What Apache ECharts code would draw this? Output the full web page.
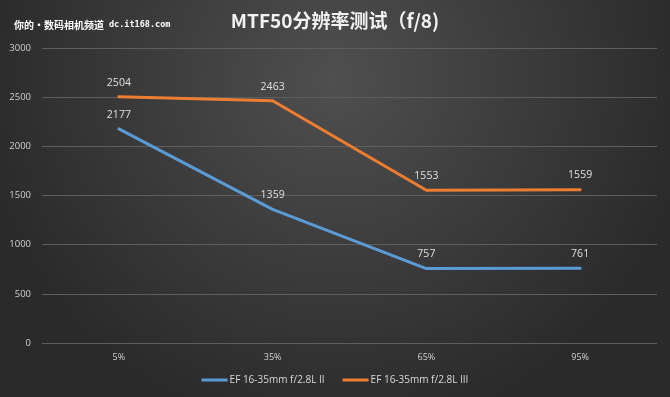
<!DOCTYPE html>
<html><head><meta charset="utf-8">
<script src="https://cdn.jsdelivr.net/npm/echarts@6/dist/echarts.min.js"></script>
<style>html,body{margin:0;padding:0;background:#333;}#c{width:670px;height:397px;}</style>
</head><body><div id="c"></div>
<script>
const categories = ['5%', '35%', '65%', '95%'];
const seriesNames = ['EF 16-35mm f/2.8L II', 'EF 16-35mm f/2.8L III'];
const seriesII = [2177, 1359, 757, 761];
const seriesIII = [2504, 2463, 1553, 1559];
const yTicks = { min: 0, max: 3000, interval: 500 };
const colors = ['#5b9bd5', '#ed7d31'];

const chart = echarts.init(document.getElementById('c'));
const font = "'Open Sans', 'Noto Sans CJK SC', sans-serif";
const lbl = { show: true, position: 'top', distance: 9, color: '#e0e0e0', fontSize: 10.5, fontFamily: font };
chart.setOption({
  backgroundColor: {
    type: 'radial', x: 0.5, y: 0.2, r: 0.9,
    colorStops: [{offset: 0, color: '#4f4f4f'}, {offset: 1, color: '#2a2a2a'}]
  },
  animation: false,
  title: [{
    text: 'MTF50分辨率测试（f/8)', left: 'center', top: 6,
    textStyle: { color: '#f2f2f2', fontSize: 19, fontWeight: 'bold', fontFamily: "'Noto Sans CJK SC', sans-serif" }
  }, {
    text: '{a|你的•数码相机频道} {b|dc.it168.com}', left: 9, top: 11,
    textStyle: {
      rich: {
        a: { color: '#ffffff', fontSize: 10, fontFamily: "'Noto Sans CJK SC', sans-serif" },
        b: { color: '#ffffff', fontSize: 8.5, fontFamily: "'DejaVu Sans Mono', monospace" }
      }
    }
  }],
  legend: {
    bottom: 7, left: 'center', itemWidth: 26, itemHeight: 3, itemGap: 18,
    icon: 'rect',
    textStyle: { color: '#d9d9d9', fontSize: 10, fontFamily: font, padding: [0, 0, 0, -3] },
    data: seriesNames.map((n, i) => ({ name: n, itemStyle: { color: colors[i], opacity: 1 } }))
  },
  grid: { left: 42, right: 13, top: 48, bottom: 54 },
  xAxis: {
    type: 'category', data: categories, boundaryGap: true,
    axisLine: { show: false }, axisTick: { show: false },
    axisLabel: { color: '#d0d0d0', fontSize: 9, fontFamily: font, margin: 10 }
  },
  yAxis: {
    type: 'value', min: yTicks.min, max: yTicks.max, interval: yTicks.interval,
    axisLine: { show: false }, axisTick: { show: false },
    axisLabel: { color: '#d0d0d0', fontSize: 9.5, fontFamily: font, margin: 11, formatter: v => String(v) },
    splitLine: { lineStyle: { color: '#5e5e5e', width: 1 } }
  },
  series: [{
    name: seriesNames[0], type: 'line', data: seriesII,
    color: colors[0], symbol: 'circle', symbolSize: 0.01, showSymbol: true,
    lineStyle: { width: 3, color: colors[0], join: 'round', cap: 'round' },
    label: lbl, labelLayout: { hideOverlap: false }
  }, {
    name: seriesNames[1], type: 'line', data: seriesIII,
    color: colors[1], symbol: 'circle', symbolSize: 0.01, showSymbol: true,
    lineStyle: { width: 3, color: colors[1], join: 'round', cap: 'round' },
    label: lbl, labelLayout: { hideOverlap: false }
  }]
});
</script></body></html>
